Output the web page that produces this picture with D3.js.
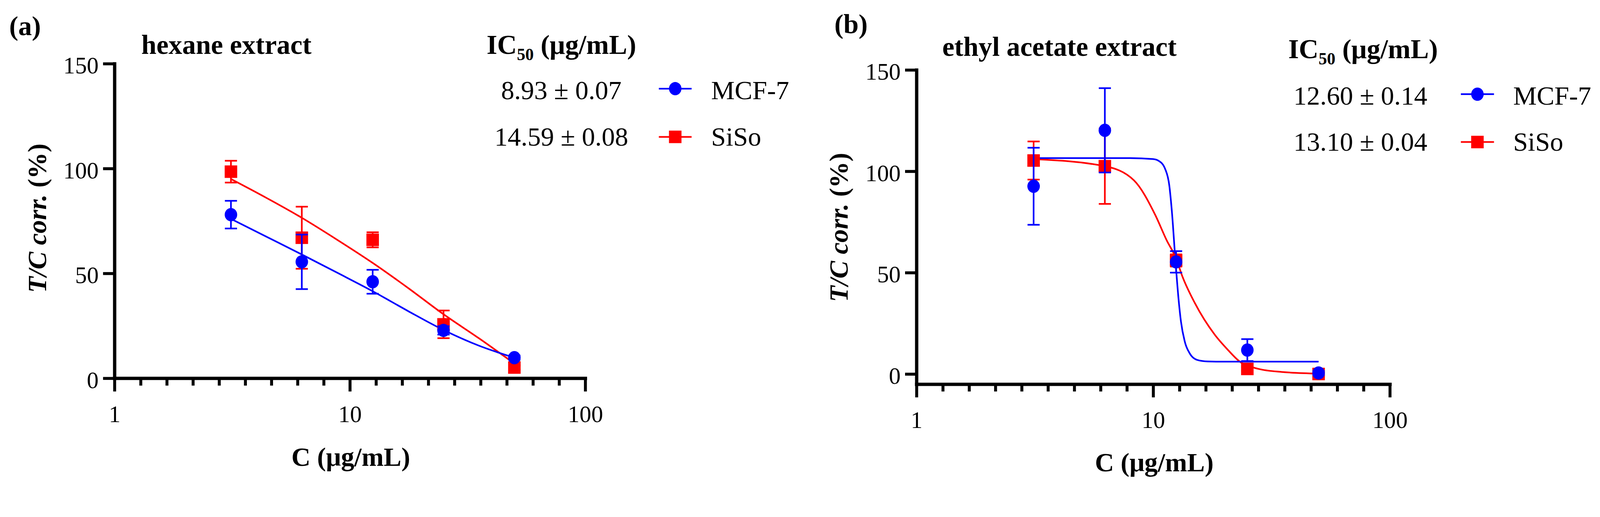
<!DOCTYPE html>
<html>
<head>
<meta charset="utf-8">
<script src="https://cdn.jsdelivr.net/npm/d3@7"></script>
<style>
    html, body { margin: 0; padding: 0; background: #fff; overflow: hidden; }
    svg { display: block; }
</style>
</head>
<body>
<svg id="chart" viewBox="0 0 4347 1324" preserveAspectRatio="xMinYMin meet" style="width:100vw;height:100vh"></svg>
<script>
    // concentrations (ug/mL), shared by both panels
    var conc = [3.125, 6.25, 12.5, 25, 50];

    // (a) hexane extract
    var hexMcfMean = [78, 55.5, 46, 22.8, 9.8];
    var hexMcfSd = [6.6, 13, 5.7, 2, 1];
    var hexSisoMean = [98.5, 67, 66, 25.7, 5.1];
    var hexSisoSd = [5.2, 14.8, 3.6, 6.6, 1];
    var hexMcfFitX = [3.125, 4.42, 6.25, 8.84, 12.5, 17.7, 25, 35.4, 50];
    var hexMcfFitY = [76, 67.5, 59, 50.3, 41.5, 32, 23, 15.5, 9.8];
    var hexSisoFitX = [3.125, 4.42, 6.25, 8.84, 12.5, 17.7, 25, 35.4, 50];
    var hexSisoFitY = [95, 86, 76.5, 66, 55, 43, 30.5, 19, 7];

    // (b) ethyl acetate extract
    var eaMcfMean = [92.6, 120.2, 55.3, 11.8, 0.5];
    var eaMcfSd = [19, 20.8, 5.3, 5.4, 1];
    var eaSisoMean = [105.3, 102.5, 56, 2.5, 0];
    var eaSisoSd = [9.4, 18.6, 3, 1, 1];
    var eaMcfFitX = [3.125, 8, 10, 10.6, 11.25, 11.7, 12.0, 12.4, 12.8, 13.1, 13.6, 14.3, 15.3, 17, 20, 50];
    var eaMcfFitY = [106.5, 106.5, 106, 105, 101, 93, 80, 57, 37, 26, 16, 10, 7, 6.2, 6.1, 6.1];
    var eaSisoFitX = [3.125, 6.25, 8.3, 10.2, 11.4, 12.5, 13.3, 15, 18.2, 20.8, 23, 27.9, 35, 50];
    var eaSisoFitY = [106, 102.5, 95.5, 78.5, 66, 57, 48, 35, 19.4, 11.6, 6.5, 2.5, 1, 0.2];

    // labels
    var seriesNames = ["MCF-7", "SiSo"];
    var hexIc50 = ["8.93 \u00b1 0.07", "14.59 \u00b1 0.08"];
    var eaIc50 = ["12.60 \u00b1 0.14", "13.10 \u00b1 0.04"];
    var xTicks = [1, 10, 100];
    var yTicks = [0, 50, 100, 150];

    var blue = "#0000ff";
    var red = "#ff0000";
    var FONT = "'Liberation Serif', 'Times New Roman', serif";

    var svg = d3.select("#chart");

    function addText(parent, x, y, size, bold, str) {
        return parent.append("text")
            .attr("x", x).attr("y", y)
            .style("font-family", FONT)
            .style("font-size", size + "px")
            .style("font-weight", bold ? "bold" : "normal")
            .style("fill", "#000")
            .text(str);
    }

    function drawMarker(parent, shape, cx, cy, color) {
        if (shape === "circle") {
            parent.append("ellipse")
                .attr("cx", cx).attr("cy", cy)
                .attr("rx", 17).attr("ry", 18)
                .attr("fill", color);
        } else {
            parent.append("rect")
                .attr("x", cx - 17).attr("y", cy - 17)
                .attr("width", 34).attr("height", 34)
                .attr("fill", color);
        }
    }

    function drawPanel(p) {
        var x = d3.scaleLog().domain([1, 100]).range(p.xRange);
        var y = d3.scaleLinear().domain(p.yDomain).range(p.yRange);
        var g = svg.append("g");
        var xAxisY = y(p.yDomain[0]);

        // minor ticks: 9 even steps per decade, as drawn in the original
        var minor = [];
        for (var i = 1; i < 18; i++) {
            if (i % 9 !== 0) minor.push(Math.pow(10, i / 9));
        }

        var gxMinor = g.append("g")
            .attr("transform", "translate(0," + xAxisY + ")")
            .call(d3.axisBottom(x).tickValues(minor).tickSize(20).tickSizeOuter(0).tickFormat(""));

        var gx = g.append("g")
            .attr("transform", "translate(0," + xAxisY + ")")
            .call(d3.axisBottom(x).tickValues(xTicks).tickSize(36).tickSizeOuter(0).tickFormat(d3.format("d")));
        gx.selectAll("text")
            .attr("y", 119).attr("dy", 0);

        var gy = g.append("g")
            .attr("transform", "translate(" + p.xRange[0] + ",0)")
            .call(d3.axisLeft(y).tickValues(yTicks).tickSize(31).tickSizeOuter(0).tickPadding(12));
        gy.selectAll("text")
            .attr("dy", 26);

        g.selectAll(".tick text")
            .style("font-family", FONT)
            .style("font-size", "64px")
            .style("fill", "#000");
        g.selectAll(".domain")
            .attr("stroke", "#000")
            .attr("stroke-width", 9)
            .attr("stroke-linecap", "square");
        g.selectAll(".tick line")
            .attr("stroke", "#000")
            .attr("stroke-width", 8);
        gxMinor.select(".domain").remove();

        // fitted curves
        var line = d3.line()
            .x(function (d) { return x(d[0]); })
            .y(function (d) { return y(d[1]); })
            .curve(d3.curveMonotoneX);

        p.series.forEach(function (s) {
            var fit = s.fitX.map(function (v, k) { return [v, s.fitY[k]]; });
            g.append("path")
                .datum(fit)
                .attr("fill", "none")
                .attr("stroke", s.color)
                .attr("stroke-width", 4.5)
                .attr("d", line);
        });

        // error bars and markers (red under blue)
        p.series.forEach(function (s) {
            var pts = conc.map(function (c, k) { return {c: c, m: s.mean[k], sd: s.sd[k]}; });
            var eb = g.append("g").attr("stroke", s.color).attr("stroke-width", 4.5);
            pts.forEach(function (d) {
                var cx = x(d.c);
                eb.append("line")
                    .attr("x1", cx).attr("x2", cx)
                    .attr("y1", y(d.m - d.sd)).attr("y2", y(d.m + d.sd));
                [d.m - d.sd, d.m + d.sd].forEach(function (v) {
                    eb.append("line")
                        .attr("x1", cx - 16.5).attr("x2", cx + 16.5)
                        .attr("y1", y(v)).attr("y2", y(v));
                });
            });
            pts.forEach(function (d) {
                drawMarker(g, s.shape, x(d.c), y(d.m), s.color);
            });
        });

        // titles
        addText(svg, p.tag[0], p.tag[1], 74, true, p.tagText);
        addText(svg, p.title[0], p.title[1], 74, true, p.titleText);

        // axis titles
        addText(svg, p.xLabel[0], p.xLabel[1], 72, true, "C (\u03bcg/mL)")
            .attr("text-anchor", "middle");

        var yl = addText(svg, 0, 0, 72, true, null)
            .attr("transform", "translate(" + p.yLabel[0] + "," + p.yLabel[1] + ") rotate(-90)")
            .attr("text-anchor", "middle");
        yl.append("tspan").style("font-style", "italic").text("T/C corr.");
        yl.append("tspan").text(" (%)");

        // IC50 header
        var hd = addText(svg, p.header[0], p.header[1], 74, true, null);
        hd.append("tspan").text("IC");
        hd.append("tspan").attr("dy", 17).style("font-size", "46px").text("50");
        hd.append("tspan").attr("dy", -17).text(" (\u03bcg/mL)");

        // legend rows: MCF-7 first, then SiSo
        var legendSeries = [p.series[1], p.series[0]];
        legendSeries.forEach(function (s, k) {
            var row = p.rows[k];
            addText(svg, p.numX, row.base, 72, false, p.ic50[k])
                .attr("text-anchor", "middle");
            svg.append("line")
                .attr("x1", p.legLine[0]).attr("x2", p.legLine[1])
                .attr("y1", row.sym).attr("y2", row.sym)
                .attr("stroke", s.color).attr("stroke-width", 4.5);
            drawMarker(svg, s.shape, (p.legLine[0] + p.legLine[1]) / 2, row.sym, s.color);
            addText(svg, p.legText, row.base, 72, false, seriesNames[k]);
        });
    }

    drawPanel({
        xRange: [311, 1590],
        yDomain: [0, 150],
        yRange: [1028, 173],
        series: [
            {shape: "square", color: red, mean: hexSisoMean, sd: hexSisoSd, fitX: hexSisoFitX, fitY: hexSisoFitY},
            {shape: "circle", color: blue, mean: hexMcfMean, sd: hexMcfSd, fitX: hexMcfFitX, fitY: hexMcfFitY}
        ],
        tag: [25, 96], tagText: "(a)",
        title: [384, 146], titleText: "hexane extract",
        xLabel: [953, 1266],
        yLabel: [125, 593],
        header: [1322, 146],
        ic50: hexIc50,
        numX: 1525,
        rows: [{base: 270, sym: 241}, {base: 396, sym: 372}],
        legLine: [1790, 1879],
        legText: 1932
    });

    drawPanel({
        xRange: [2490, 3776],
        yDomain: [-5, 150],
        yRange: [1044, 190],
        series: [
            {shape: "square", color: red, mean: eaSisoMean, sd: eaSisoSd, fitX: eaSisoFitX, fitY: eaSisoFitY},
            {shape: "circle", color: blue, mean: eaMcfMean, sd: eaMcfSd, fitX: eaMcfFitX, fitY: eaMcfFitY}
        ],
        tag: [2267, 90], tagText: "(b)",
        title: [2560, 152], titleText: "ethyl acetate extract",
        xLabel: [3136, 1281],
        yLabel: [2303, 618],
        header: [3500, 158],
        ic50: eaIc50,
        numX: 3696,
        rows: [{base: 284, sym: 256}, {base: 410, sym: 386}],
        legLine: [3969, 4059],
        legText: 4111
    });
</script>
</body>
</html>
